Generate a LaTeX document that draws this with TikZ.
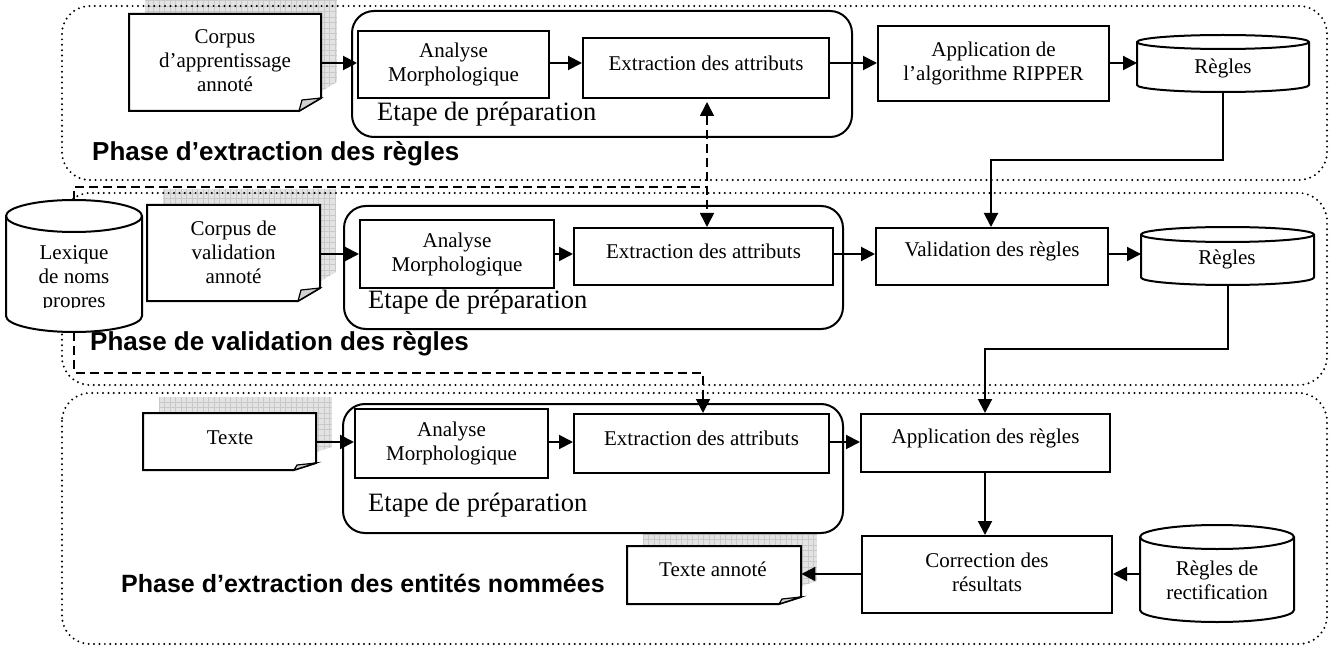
\documentclass[tikz,border=0pt]{standalone}
\usepackage{fontspec}
\setmainfont{Liberation Serif}
\newfontfamily\phasefont{Liberation Sans}
\usetikzlibrary{arrows.meta}
\pgfdeclarelayer{bg}
\pgfsetlayers{bg,main}
\tikzset{
  box/.style={draw, line width=2pt, fill=white, inner sep=0pt, anchor=north west},
  lbl/.style={font=\fontsize{21}{24}\selectfont, align=center, inner sep=0pt},
  arr/.style={line width=2pt, -{Triangle[length=14pt,width=14pt]}},
  darr/.style={line width=1.5pt, dash pattern=on 9pt off 5pt},
  phasebox/.style={line width=2.2pt, dash pattern=on 0pt off 5.4pt, line cap=round, rounded corners=28pt},
  prepbox/.style={rounded corners=22pt, fill=white},
  phaselbl/.style={font=\phasefont\bfseries\fontsize{26}{30}\selectfont, anchor=base west, inner sep=0pt},
  etape/.style={font=\fontsize{26.5}{30}\selectfont, anchor=base west, inner sep=0pt},
}
% rectangle node: [style] x1 y1 x2 y2 name
\newcommand\boxnode[6][]{%
  \pgfmathsetmacro\bw{#4-#2}\pgfmathsetmacro\bh{#5-#3}%
  \node[box, minimum width=\bw pt, minimum height=\bh pt, #1] (#6) at (#2,#3) {};}
% document shape: x1 y1 x2 y2 foldheight name
\newcommand\docshape[6]{%
  \begin{pgfonlayer}{bg}
    \begin{scope}[shift={(16,-16)}]
      \clip (#1,#2) -- (#3,#2) -- (#3,{#4-#5}) -- ({#3-22},#4) -- (#1,#4) -- cycle;
      \fill[gray!22] (#1,#2) rectangle (#3,#4);
      \draw[gray!42, line width=0.5pt, step=5.5pt] (#1,#2) grid (#3,#4);
    \end{scope}
  \end{pgfonlayer}
  \filldraw[fill=white, line width=2pt] (#1,#2) -- (#3,#2) -- (#3,{#4-#5}) -- ({#3-22},#4) -- (#1,#4) -- cycle;
  \filldraw[fill=gray!35, line width=1.2pt] ({#3-22},#4) -- ({#3-19},{#4-#5+2}) -- (#3,{#4-#5}) -- cycle;
  \pgfmathsetmacro\bw{#3-#1}\pgfmathsetmacro\bh{#4-#2}%
  \node[inner sep=0pt, minimum width=\bw pt, minimum height=\bh pt, anchor=north west] (#6) at (#1,#2) {};}
% cylinder: x1 y1 x2 y2 ry name
\newcommand\cylshape[6]{%
  \pgfmathsetmacro\cxc{(#1+#3)/2}\pgfmathsetmacro\crx{(#3-#1)/2}%
  \pgfmathsetmacro\ctop{#2+#5}\pgfmathsetmacro\cbot{#4-#5}%
  \pgfmathsetmacro\kx{0.5523*\crx}\pgfmathsetmacro\ky{0.5523*#5}%
  \pgfmathsetmacro\clow{#2+2*#5}%
  \filldraw[fill=white, line width=2pt] (#1,\ctop) -- (#1,\cbot)
    .. controls (#1,{\cbot+\ky}) and ({\cxc-\kx},#4) .. (\cxc,#4)
    .. controls ({\cxc+\kx},#4) and (#3,{\cbot+\ky}) .. (#3,\cbot)
    -- (#3,\ctop)
    .. controls (#3,{\ctop-\ky}) and ({\cxc+\kx},#2) .. (\cxc,#2)
    .. controls ({\cxc-\kx},#2) and (#1,{\ctop-\ky}) .. (#1,\ctop) -- cycle;
  \draw[line width=2pt] (#1,\ctop)
    .. controls (#1,{\ctop+\ky}) and ({\cxc-\kx},\clow) .. (\cxc,\clow)
    .. controls ({\cxc+\kx},\clow) and (#3,{\ctop+\ky}) .. (#3,\ctop);
  \pgfmathsetmacro\bw{#3-#1}\pgfmathsetmacro\bh{#4-#2}%
  \node[inner sep=0pt, minimum width=\bw pt, minimum height=\bh pt, anchor=north west] (#6) at (#1,#2) {};}
\begin{document}
\begin{tikzpicture}[x=1pt, y=-1pt]
\useasboundingbox (0,0) rectangle (1330,647);
\begin{pgfonlayer}{bg}
  \fill[white] (0,0) rectangle (1330,647);
\end{pgfonlayer}

% phase frames
\draw[phasebox] (62,6) rectangle (1327,180);
\draw[phasebox] (62,193) rectangle (1327,385);
\draw[phasebox] (62,393) rectangle (1327,644);
\node[phaselbl] (ph1) at (92,161) {Phase d’extraction des règles};
\node[phaselbl] (ph2) at (90,350) {Phase de validation des règles};
\node[phaselbl, font=\phasefont\bfseries\fontsize{25}{30}\selectfont] (ph3) at (121,592) {Phase d’extraction des entités nommées};

% ---------- row 1
\docshape{129}{14}{321}{111}{13}{c1}
\node[lbl, anchor=base] (c1t) at (225,92) {Corpus\\d’apprentissage\\annoté};
\boxnode[prepbox]{351}{10}{851}{136}{e1}
\node[etape] (e1t) at (377,121) {Etape de préparation};
\boxnode{357}{30}{548}{97}{a1}
\node[lbl] (a1t) at (a1.center) {Analyse\\Morphologique};
\boxnode{582}{37}{828}{97}{x1}
\node[lbl] (x1t) at ([yshift=5pt]x1.center) {Extraction des attributs};
\boxnode{877}{25}{1108}{100}{p1}
\node[lbl] (p1t) at (p1.center) {Application de\\l’algorithme RIPPER};
\cylshape{1137}{35}{1309}{92}{7}{r1}
\node[lbl] (r1t) at (1223,68) {Règles};

% ---------- row 2
\cylshape{6}{200}{142}{332}{16}{lex}
\begin{scope}
  \clip (0,190) rectangle (150,307);
  \node[lbl, anchor=base] (lext) at (74,307) {Lexique\\de noms\\propres};
\end{scope}
\docshape{147}{205}{320}{301}{13}{c2}
\node[lbl, anchor=base] (c2t) at (233.5,283) {Corpus de\\validation\\annoté};
\boxnode[prepbox]{343}{205}{842}{328}{e2}
\node[etape] (e2t) at (368,308) {Etape de préparation};
\boxnode{359}{219}{553}{287}{a2}
\node[lbl] (a2t) at (a2.center) {Analyse\\Morphologique};
\boxnode{573}{227}{832}{284}{x2}
\node[lbl] (x2t) at ([yshift=5pt]x2.center) {Extraction des attributs};
\boxnode{875}{227}{1107}{284}{v2}
\node[lbl] (v2t) at ([yshift=5pt]v2.center) {Validation des règles};
\cylshape{1141}{227}{1314}{285}{7.5}{r2}
\node[lbl] (r2t) at (1227,259) {Règles};

% ---------- row 3
\docshape{143}{413}{316}{470}{7}{c3}
\node[lbl, anchor=base] (c3t) at (230,444) {Texte};
\boxnode[prepbox]{342}{403}{842}{532}{e3}
\node[etape] (e3t) at (368,511) {Etape de préparation};
\boxnode{354}{408}{547}{477}{a3}
\node[lbl] (a3t) at (a3.center) {Analyse\\Morphologique};
\boxnode{573}{413}{828}{472}{x3}
\node[lbl] (x3t) at ([yshift=5pt]x3.center) {Extraction des attributs};
\boxnode{860}{413}{1109}{471}{p3}
\node[lbl] (p3t) at ([yshift=5pt]p3.center) {Application des règles};
\boxnode{861}{535}{1111}{612}{k3}
\node[lbl] (k3t) at ([yshift=2pt]k3.center) {Correction des\\résultats};
\cylshape{1140}{525}{1294}{622}{12}{rr}
\node[lbl] (rrt) at (1217,580) {Règles de\\rectification};
\docshape{627}{546}{801}{604}{7}{c4}
\node[lbl, anchor=base] (c4t) at (713,576) {Texte annoté};

% ---------- connectors
\coordinate (y1) at (0,63);
\coordinate (y2) at (0,254);
\coordinate (y3) at (0,442);
\draw[arr] (c1.east |- y1) -- (a1.west |- y1);
\draw[arr] (a1.east |- y1) -- (x1.west |- y1);
\draw[arr] (x1.east |- y1) -- (p1.west |- y1);
\draw[arr] (p1.east |- y1) -- (r1.west |- y1);

\draw[arr] (c2.east |- y2) -- (a2.west |- y2);
\draw[arr] (a2.east |- y2) -- (x2.west |- y2);
\draw[arr] (x2.east |- y2) -- (v2.west |- y2);
\draw[arr] (v2.east |- y2) -- (r2.west |- y2);

\draw[arr] (c3.east |- y3) -- (a3.west |- y3);
\draw[arr] (a3.east |- y3) -- (x3.west |- y3);
\draw[arr] (x3.east |- y3) -- (p3.west |- y3);

\coordinate (k1) at (991,160);
\draw[arr] (r1.south) |- (k1) -- (k1 |- v2.north);
\coordinate (k2) at (985,349);
\coordinate (k3c) at (985,574);
\draw[arr] (r2.south) |- (k2) -- (k2 |- p3.north);
\draw[arr] (k2 |- p3.south) -- (k2 |- k3.north);
\draw[arr] (rr.west |- k3c) -- (k3.east |- k3c);
\draw[arr] (k3.west |- k3c) -- (c4.east |- k3c);

% dashed lexicon links
\coordinate (d1) at (707,187);
\draw[darr] (lex.north) |- (d1);
\draw[darr, {Triangle[length=14pt,width=14pt]}-{Triangle[length=14pt,width=14pt]}, shorten <=3pt] (d1 |- x1.south) -- (d1 |- x2.north);
\coordinate (d2) at (703,373);
\draw[darr, -{Triangle[length=14pt,width=14pt]}] (lex.south) |- (d2) -- (d2 |- x3.north);
\end{tikzpicture}
\end{document}
